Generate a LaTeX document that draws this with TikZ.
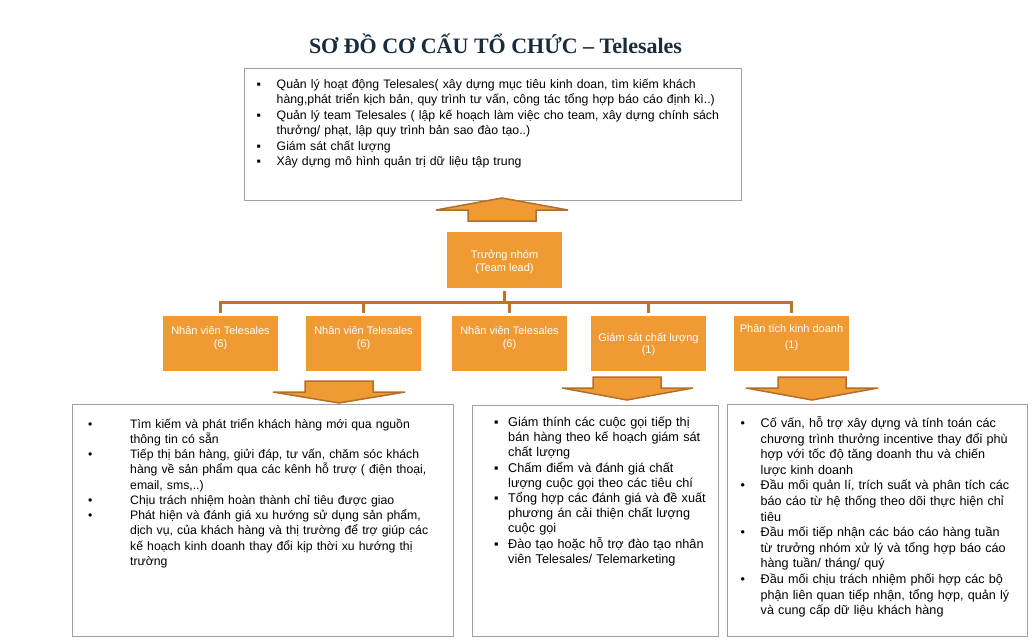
\documentclass[tikz,border=0pt]{standalone}
\usepackage{fontspec}
\setmainfont{Liberation Sans}
\newfontfamily\titlefont{Liberation Serif}
\definecolor{org}{RGB}{240,154,52}
\definecolor{orgdark}{RGB}{180,110,40}
\definecolor{conncol}{RGB}{185,116,46}
\definecolor{titlecol}{RGB}{26,43,60}
\definecolor{boxgray}{RGB}{160,160,160}
\newcommand{\itm}[3]{\parskip=0pt\relax\noindent\hangindent=#1\hangafter=1\hbox to #1{#2\hfil}#3\par}
\newcommand{\sqbul}{▪}
\newcommand{\dotbul}{•}
\begin{document}
\begin{tikzpicture}[x=1pt,y=-1pt,
  infobox/.style={draw=boxgray,line width=1.3pt,fill=white,anchor=north west,inner sep=0pt},
  orgbox/.style={fill=org,anchor=north west,inner sep=0pt,minimum width=115pt,minimum height=55pt},
  orgtext/.style={anchor=base,inner sep=0pt,align=center,text=white,font=\fontsize{11}{12.5}\selectfont},
  listtext/.style={anchor=base west,inner sep=0pt,text width=480pt},
  blockarrow/.style={fill=org,draw=orgdark,line width=1.5pt},
  conn/.style={draw=conncol,line width=2.5pt}
]
\useasboundingbox[fill=white] (0,0) rectangle (1033,642);

\node[anchor=base,font=\titlefont\bfseries\fontsize{22}{26}\selectfont,text=titlecol,inner sep=0pt] (title) at (495.5,53) {SƠ ĐỒ CƠ CẤU TỔ CHỨC – Telesales};

% top box
\node[infobox,minimum width=497pt,minimum height=132pt] (mgr) at (244,68) {};
\node[listtext,font=\fontsize{12.3}{15.4}\selectfont] (mgrtxt) at (256.5,88.5) {%
\itm{20pt}{\sqbul}{Quản lý hoạt động Telesales( xây dựng mục tiêu kinh doan, tìm kiếm khách\newline hàng,phát triển kịch bản, quy trình tư vấn, công tác tổng hợp báo cáo định kì..)}%
\itm{20pt}{\sqbul}{Quản lý team Telesales ( lập kế hoạch làm việc cho team, xây dựng chính sách\newline thưởng/ phạt, lập quy trình bản sao đào tạo..)}%
\itm{20pt}{\sqbul}{Giám sát chất lượng}%
\itm{20pt}{\sqbul}{Xây dựng mô hình quản trị dữ liệu tập trung}};

% up arrow
\path[blockarrow] (502,198) -- (568,210) -- (536,210) -- (536,221) -- (468,221) -- (468,210) -- (436,210) -- cycle;

% team lead
\node[orgbox,minimum height=56pt] (tl) at (447,232) {};
\node[orgtext] (tlt) at (504.5,271) {Trưởng nhóm\\(Team lead)};

% children
\node[orgbox] (c1) at (163,316) {};
\node[orgbox] (c2) at (306,316) {};
\node[orgbox] (c3) at (452,316) {};
\node[orgbox] (c4) at (591,316) {};
\node[orgbox] (c5) at (734,316) {};
\node[orgtext] (l1) at (220.5,347) {Nhân viên Telesales\\(6)};
\node[orgtext] (l2) at (363.5,347) {Nhân viên Telesales\\(6)};
\node[orgtext] (l3) at (509.5,347) {Nhân viên Telesales\\(6)};
\node[orgtext] (l4) at (648.5,353.5) {Giám sát chất lượng\\(1)};
\node[orgtext] (l5) at (791.5,348) {Phân tích kinh doanh\\[3.5pt](1)};

\foreach \c in {c1,c2,c3,c4,c5}
  \draw[conn] ([yshift=-3pt]tl.south) -- ++(0,11) -| ([yshift=3pt]\c.north);

% down arrows
\path[blockarrow] (305,381) -- (373,381) -- (373,392) -- (405,392) -- (339,403) -- (273,392) -- (305,392) -- cycle;
\path[blockarrow] (593,377) -- (661,377) -- (661,388) -- (693,388) -- (627,400) -- (562,388) -- (593,388) -- cycle;
\path[blockarrow] (778,377) -- (846,377) -- (846,388) -- (878,388) -- (812,400) -- (746,388) -- (778,388) -- cycle;

% bottom boxes
\node[infobox,minimum width=381pt,minimum height=231.5pt] (b1) at (72,404) {};
\node[infobox,minimum width=245.5pt,minimum height=230.5pt] (b2) at (472,405) {};
\node[infobox,minimum width=299.5pt,minimum height=231.5pt] (b3) at (727,404) {};

\node[listtext,font=\fontsize{12.25}{15.25}\selectfont] (b1t) at (88,428) {%
\itm{42pt}{\dotbul}{Tìm kiếm và phát triển khách hàng mới qua nguồn\newline thông tin có sẵn}%
\itm{42pt}{\dotbul}{Tiếp thị bán hàng, giửi đáp, tư vấn, chăm sóc khách\newline hàng về sản phẩm qua các kênh hỗ trượ ( điện thoại,\newline email, sms,..)}%
\itm{42pt}{\dotbul}{Chịu trách nhiệm hoàn thành chỉ tiêu được giao}%
\itm{42pt}{\dotbul}{Phát hiện và đánh giá xu hướng sử dụng sản phẩm,\newline dịch vụ, của khách hàng và thị trường để trợ giúp các\newline kế hoạch kinh doanh thay đổi kịp thời xu hướng thị\newline trường}};

\node[listtext,font=\fontsize{12.7}{15.2}\selectfont] (b2t) at (494,426.5) {%
\itm{14pt}{\sqbul}{Giám thính các cuộc gọi tiếp thị\newline bán hàng theo kế hoạch giám sát\newline chất lượng}%
\itm{14pt}{\sqbul}{Chấm điểm và đánh giá chất\newline lượng cuộc gọi theo các tiêu chí}%
\itm{14pt}{\sqbul}{Tổng hợp các đánh giá và đề xuất\newline phương án cải thiện chất lượng\newline cuộc gọi}%
\itm{14pt}{\sqbul}{Đào tạo hoặc hỗ trợ đào tạo nhân\newline viên Telesales/ Telemarketing}};

\node[listtext,font=\fontsize{12.6}{15.6}\selectfont] (b3t) at (740.5,427.5) {%
\itm{20pt}{\dotbul}{Cố vấn, hỗ trợ xây dựng và tính toán các\newline chương trình thưởng incentive thay đổi phù\newline hợp với tốc độ tăng doanh thu và chiến\newline lược kinh doanh}%
\itm{20pt}{\dotbul}{Đầu mối quản lí, trích suất và phân tích các\newline báo cáo từ hệ thống theo dõi thực hiện chỉ\newline tiêu}%
\itm{20pt}{\dotbul}{Đầu mối tiếp nhận các báo cáo hàng tuần\newline từ trưởng nhóm xử lý và tổng hợp báo cáo\newline hàng tuần/ tháng/ quý}%
\itm{20pt}{\dotbul}{Đầu mối chịu trách nhiệm phối hợp các bộ\newline phận liên quan tiếp nhận, tổng hợp, quản lý\newline và cung cấp dữ liệu khách hàng}};
\end{tikzpicture}
\end{document}
